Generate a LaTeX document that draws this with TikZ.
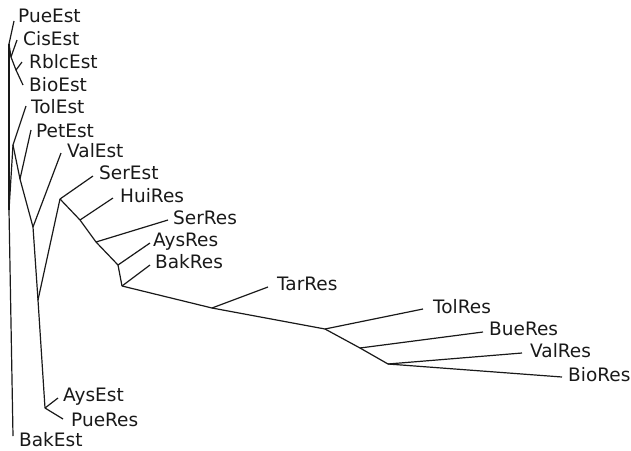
\documentclass[tikz,border=0pt]{standalone}
\usepackage{fontspec}
\setmainfont{DejaVu Sans}
\begin{document}
\begin{tikzpicture}[x=1pt,y=-1pt,
  edge/.style={line width=1.2pt,black!90},
  lab/.style={anchor=base west,inner sep=0pt,font=\fontsize{18.5}{20}\selectfont,text=black!90}]
\useasboundingbox (0,0) rectangle (631,450);
% internal nodes
\coordinate (T0) at (9,44);
\coordinate (T1) at (11,57);
\coordinate (T2) at (16,70);
\coordinate (M) at (9,210);
\coordinate (N1) at (13,145);
\coordinate (N2) at (20,179);
\coordinate (N3) at (33,227);
\coordinate (N4) at (38,300);
\coordinate (N5) at (45,408);
\coordinate (R1) at (60,199);
\coordinate (R2) at (80,220);
\coordinate (R3) at (96,242);
\coordinate (R4) at (118,265);
\coordinate (R5) at (122,286);
\coordinate (R6) at (212,308);
\coordinate (R7) at (325,329);
\coordinate (R8) at (360,348);
\coordinate (R9) at (388,364);
% tips
\coordinate (tPueEst) at (14,21);
\coordinate (tCisEst) at (17,40);
\coordinate (tRbIcEst) at (22,62);
\coordinate (tBioEst) at (23,85);
\coordinate (tTolEst) at (26,106);
\coordinate (tPetEst) at (31,130);
\coordinate (tValEst) at (61,153);
\coordinate (tSerEst) at (93,176);
\coordinate (tHuiRes) at (113,198);
\coordinate (tSerRes) at (168,220);
\coordinate (tAysRes) at (150,243);
\coordinate (tBakRes) at (150,265);
\coordinate (tTarRes) at (268,287);
\coordinate (tTolRes) at (423,309);
\coordinate (tBueRes) at (483,332);
\coordinate (tValRes) at (522,353);
\coordinate (tBioRes) at (562,377);
\coordinate (tAysEst) at (58,398);
\coordinate (tPueRes) at (63,419);
\coordinate (tBakEst) at (13,436);
% labels
\node[lab] (lPueEst) at (18,22) {PueEst};
\node[lab] (lCisEst) at (23,45) {CisEst};
\node[lab] (lRbIcEst) at (29,68) {RblcEst};
\node[lab] (lBioEst) at (29,91) {BioEst};
\node[lab] (lTolEst) at (31,113) {TolEst};
\node[lab] (lPetEst) at (36,137) {PetEst};
\node[lab] (lValEst) at (67,157) {ValEst};
\node[lab] (lSerEst) at (99,179) {SerEst};
\node[lab] (lHuiRes) at (120,202) {HuiRes};
\node[lab] (lSerRes) at (173,224) {SerRes};
\node[lab] (lAysRes) at (153,246) {AysRes};
\node[lab] (lBakRes) at (155,268) {BakRes};
\node[lab] (lTarRes) at (277,290) {TarRes};
\node[lab] (lTolRes) at (433,313) {TolRes};
\node[lab] (lBueRes) at (489,335) {BueRes};
\node[lab] (lValRes) at (530,357) {ValRes};
\node[lab] (lBioRes) at (568,381) {BioRes};
\node[lab] (lAysEst) at (63,401) {AysEst};
\node[lab] (lPueRes) at (71,426) {PueRes};
\node[lab] (lBakEst) at (19,446) {BakEst};
% edges
\draw[edge] (T0) -- (tPueEst);
\draw[edge] (T0) -- (T1);
\draw[edge] (T1) -- (tCisEst);
\draw[edge] (T1) -- (T2);
\draw[edge] (T2) -- (tRbIcEst);
\draw[edge] (T2) -- (tBioEst);
\draw[edge] (T0) -- (M);
\draw[edge] (M) -- (tBakEst);
\draw[edge] (M) -- (N1);
\draw[edge] (N1) -- (tTolEst);
\draw[edge] (N1) -- (N2);
\draw[edge] (N2) -- (tPetEst);
\draw[edge] (N2) -- (N3);
\draw[edge] (N3) -- (tValEst);
\draw[edge] (N3) -- (N4);
\draw[edge] (N4) -- (N5);
\draw[edge] (N5) -- (tAysEst);
\draw[edge] (N5) -- (tPueRes);
\draw[edge] (N4) -- (R1);
\draw[edge] (R1) -- (tSerEst);
\draw[edge] (R1) -- (R2);
\draw[edge] (R2) -- (tHuiRes);
\draw[edge] (R2) -- (R3);
\draw[edge] (R3) -- (tSerRes);
\draw[edge] (R3) -- (R4);
\draw[edge] (R4) -- (tAysRes);
\draw[edge] (R4) -- (R5);
\draw[edge] (R5) -- (tBakRes);
\draw[edge] (R5) -- (R6);
\draw[edge] (R6) -- (tTarRes);
\draw[edge] (R6) -- (R7);
\draw[edge] (R7) -- (tTolRes);
\draw[edge] (R7) -- (R8);
\draw[edge] (R8) -- (tBueRes);
\draw[edge] (R8) -- (R9);
\draw[edge] (R9) -- (tValRes);
\draw[edge] (R9) -- (tBioRes);
\end{tikzpicture}
\end{document}
